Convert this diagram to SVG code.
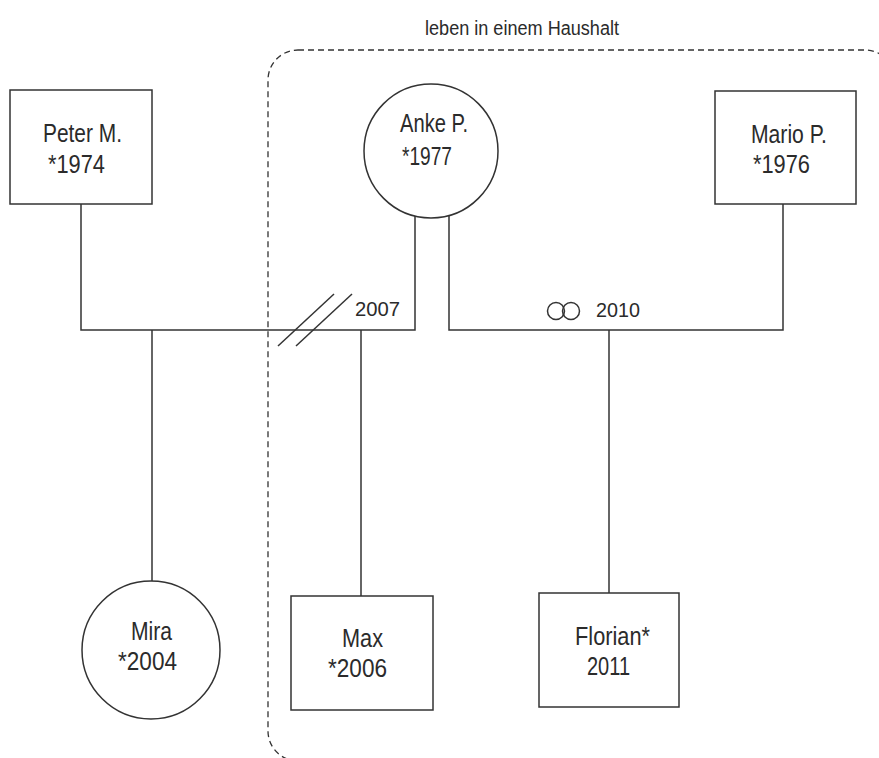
<svg xmlns="http://www.w3.org/2000/svg" width="879" height="758" viewBox="0 0 879 758">
<style>
  .node { fill: #ffffff; stroke: #333333; stroke-width: 1.5; }
  .line { fill: none; stroke: #333333; stroke-width: 1.5; }
  .lbl { font-family: "Liberation Sans Narrow", "Liberation Sans", "DejaVu Sans", sans-serif; font-size: 25px; fill: #2b2b2b; text-anchor: middle; }
  .small { font-family: "Liberation Sans Narrow", "Liberation Sans", "DejaVu Sans", sans-serif; font-size: 20px; fill: #2b2b2b; }
  .border { fill: none; stroke: #333333; stroke-width: 1.3; stroke-dasharray: 6 4; }
</style>
<rect width="879" height="758" fill="#ffffff"/>
<g id="household">
  <rect class="border" x="268" y="50" width="627" height="711" rx="30" ry="30"/>
  <text class="small" x="522" y="35" text-anchor="middle" font-size="23" textLength="194" lengthAdjust="spacingAndGlyphs">leben in einem Haushalt</text>
</g>
<g id="connectors">
  <polyline class="line" points="81,204 81,330 415,330 415,215"/>
  <line class="line" x1="152" y1="330" x2="152" y2="581"/>
  <line class="line" x1="361" y1="330" x2="361" y2="596"/>
  <line class="line" x1="278" y1="346" x2="334" y2="294"/>
  <line class="line" x1="296" y1="346" x2="352" y2="294"/>
  <text class="small" x="355" y="316" textLength="45" lengthAdjust="spacingAndGlyphs">2007</text>
  <polyline class="line" points="449,215 449,330 783,330 783,204"/>
  <line class="line" x1="609" y1="330" x2="609" y2="593"/>
  <circle class="line" cx="556" cy="311" r="8.5" stroke-width="1.3"/>
  <circle class="line" cx="571" cy="311" r="8.5" stroke-width="1.3"/>
  <text class="small" x="596" y="317" textLength="44" lengthAdjust="spacingAndGlyphs">2010</text>
</g>
<g id="peter">
  <rect class="node" x="10" y="90" width="142" height="114"/>
  <text class="lbl" x="82.5" y="142" textLength="79" lengthAdjust="spacingAndGlyphs">Peter M.</text>
  <text class="lbl" x="76.5" y="173" textLength="57" lengthAdjust="spacingAndGlyphs">*1974</text>
</g>
<g id="anke">
  <circle class="node" cx="431" cy="151" r="67"/>
  <text class="lbl" x="434" y="132" textLength="68" lengthAdjust="spacingAndGlyphs">Anke P.</text>
  <text class="lbl" x="427" y="165" textLength="50" lengthAdjust="spacingAndGlyphs">*1977</text>
</g>
<g id="mario">
  <rect class="node" x="715" y="91" width="141" height="113"/>
  <text class="lbl" x="789" y="143" textLength="76" lengthAdjust="spacingAndGlyphs">Mario P.</text>
  <text class="lbl" x="781.5" y="173" textLength="57" lengthAdjust="spacingAndGlyphs">*1976</text>
</g>
<g id="mira">
  <circle class="node" cx="151" cy="650" r="69"/>
  <text class="lbl" x="151.5" y="640" textLength="41" lengthAdjust="spacingAndGlyphs">Mira</text>
  <text class="lbl" x="147.5" y="670" textLength="59" lengthAdjust="spacingAndGlyphs">*2004</text>
</g>
<g id="max">
  <rect class="node" x="291" y="596" width="142" height="114"/>
  <text class="lbl" x="362.5" y="647" textLength="41" lengthAdjust="spacingAndGlyphs">Max</text>
  <text class="lbl" x="357.5" y="677" textLength="59" lengthAdjust="spacingAndGlyphs">*2006</text>
</g>
<g id="florian">
  <rect class="node" x="539" y="593" width="140" height="114"/>
  <text class="lbl" x="612.5" y="645" textLength="75" lengthAdjust="spacingAndGlyphs">Florian*</text>
  <text class="lbl" x="608.5" y="675" font-size="21" textLength="43" lengthAdjust="spacingAndGlyphs">2011</text>
</g>
</svg>
